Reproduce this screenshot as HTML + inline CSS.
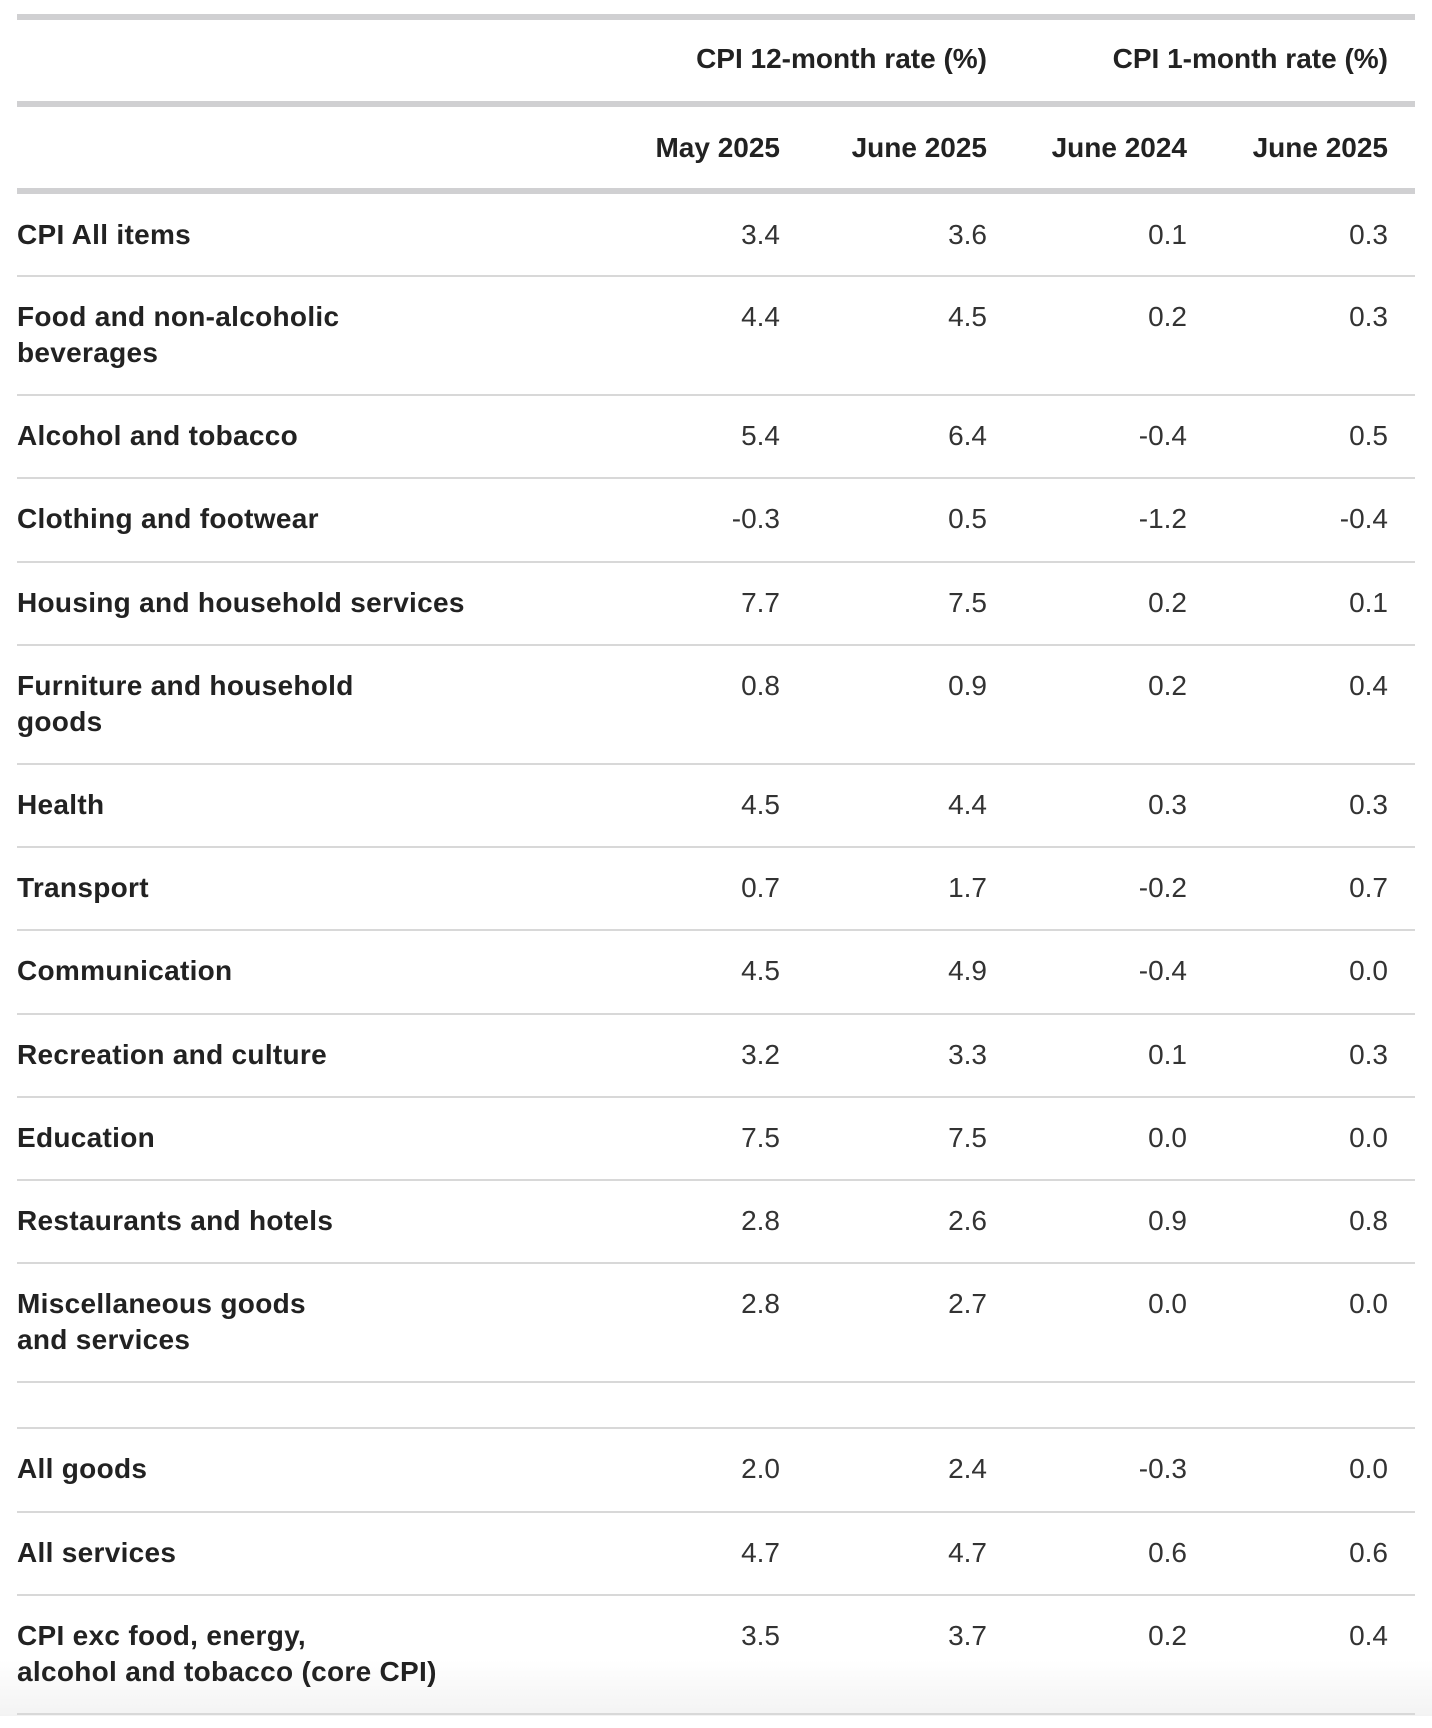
<!DOCTYPE html>
<html><head><meta charset="utf-8">
<style>
html,body{margin:0;padding:0;background:#fff;}
body{width:1432px;height:1728px;position:relative;overflow:hidden;font-family:"Liberation Sans",sans-serif;color:#222;}
.thick{position:absolute;left:17px;width:1398px;height:6px;background:#d0d0d2;}
.thin{position:absolute;left:17px;width:1398px;height:2px;background:#d8d8d8;}
.h{position:absolute;font-weight:bold;font-size:28px;line-height:36px;white-space:nowrap;text-align:right;color:#222;}
.lab{position:absolute;left:17px;font-weight:bold;font-size:28px;line-height:36px;color:#222;letter-spacing:0.3px;}
.val{position:absolute;font-size:28px;line-height:36px;color:#333;text-align:right;width:200px;}
.fade{position:absolute;left:0;top:1660px;width:1432px;height:56px;background:linear-gradient(#fff,#f3f3f3);}
</style></head>
<body>
<div class="fade"></div>
<div class="thick" style="top:14px"></div>
<div class="h" style="right:445px;top:41px">CPI 12-month rate (%)</div>
<div class="h" style="right:44px;top:41px">CPI 1-month rate (%)</div>
<div class="thick" style="top:101px"></div>
<div class="h" style="right:652px;top:130px">May 2025</div>
<div class="h" style="right:445px;top:130px">June 2025</div>
<div class="h" style="right:245px;top:130px">June 2024</div>
<div class="h" style="right:44px;top:130px">June 2025</div>
<div class="thick" style="top:188px"></div>
<script>
const categories=[["CPI All items"],["Food and non-alcoholic","beverages"],["Alcohol and tobacco"],["Clothing and footwear"],["Housing and household services"],["Furniture and household","goods"],["Health"],["Transport"],["Communication"],["Recreation and culture"],["Education"],["Restaurants and hotels"],["Miscellaneous goods","and services"],null,["All goods"],["All services"],["CPI exc food, energy,","alcohol and tobacco (core CPI)"]];
const may2025=["3.4","4.4","5.4","-0.3","7.7","0.8","4.5","0.7","4.5","3.2","7.5","2.8","2.8",null,"2.0","4.7","3.5"];
const june2025=["3.6","4.5","6.4","0.5","7.5","0.9","4.4","1.7","4.9","3.3","7.5","2.6","2.7",null,"2.4","4.7","3.7"];
const june2024m=["0.1","0.2","-0.4","-1.2","0.2","0.2","0.3","-0.2","-0.4","0.1","0.0","0.9","0.0",null,"-0.3","0.6","0.2"];
const june2025m=["0.3","0.3","0.5","-0.4","0.1","0.4","0.3","0.7","0.0","0.3","0.0","0.8","0.0",null,"0.0","0.6","0.4"];
const cols=[may2025,june2025,june2024m,june2025m];
const colRight=[780,987,1187,1388];
let y=194;
categories.forEach((c,i)=>{
  let h;
  if(c===null){h=46;}
  else{
    h=c.length===1?83.2:119.2;
    if(i===0)h=81;
    const d=document.createElement('div');
    d.className='lab';
    
    
    d.style.top=(y+24-(i===0?1:0))+'px';
    d.innerHTML=c.join('<br>');
    document.body.appendChild(d);
    cols.forEach((arr,j)=>{
      const v=document.createElement('div');
      v.className='val';
      
      
      v.style.top=(y+24-(i===0?1:0))+'px';
      v.style.left=(colRight[j]-200)+'px';
      v.textContent=arr[i];
      document.body.appendChild(v);
    });
  }
  y+=h;
  const l=document.createElement('div');
  l.className='thin';
  
  
  l.style.top=Math.round(y)+'px';
  document.body.appendChild(l);
});
</script>
</body></html>
